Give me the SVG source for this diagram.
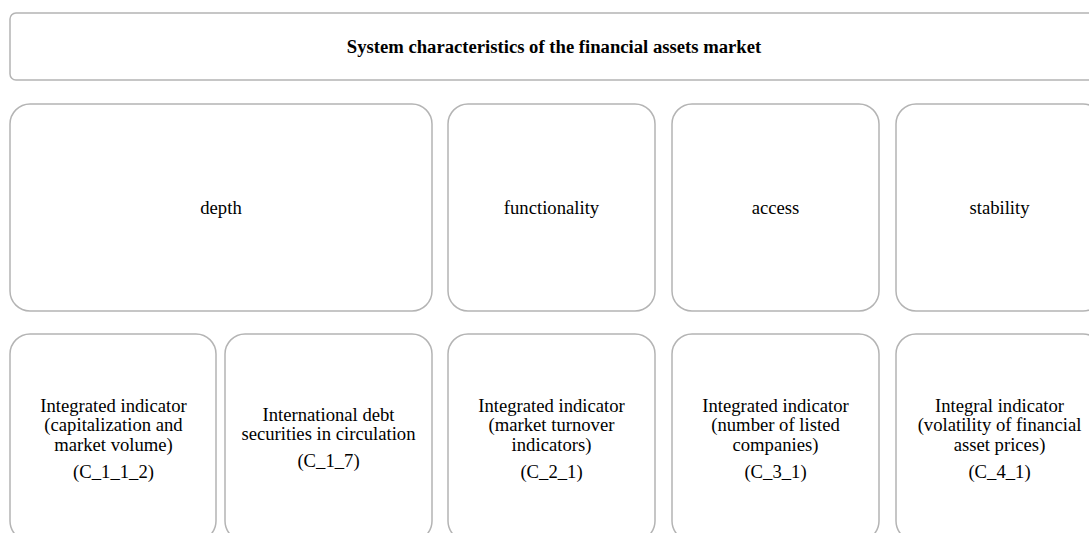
<svg xmlns="http://www.w3.org/2000/svg" width="1089" height="533" viewBox="0 0 1089 533">
<style>
.box{fill:#ffffff;stroke:#b4b4b4;stroke-width:1.5}
.t{font-family:'Liberation Serif','Times New Roman','DejaVu Serif',serif;font-size:18.67px;fill:#000000;text-anchor:middle}
.b{font-weight:bold}
</style>
<rect x="0" y="0" width="1089" height="533" fill="#ffffff"/>
<g id="title">
<rect class="box" x="10" y="13" width="1093" height="67" rx="6"/>
<text class="t b" x="554" y="52.5">System characteristics of the financial assets market</text>
</g>
<g id="depth">
<rect class="box" x="10" y="104" width="422" height="207" rx="20"/>
<text class="t" x="221" y="214">depth</text>
</g>
<g id="functionality">
<rect class="box" x="448" y="104" width="207" height="207" rx="20"/>
<text class="t" x="551.5" y="214">functionality</text>
</g>
<g id="access">
<rect class="box" x="672" y="104" width="207" height="207" rx="20"/>
<text class="t" x="775.5" y="214">access</text>
</g>
<g id="stability">
<rect class="box" x="896" y="104" width="207" height="207" rx="20"/>
<text class="t" x="999.5" y="214">stability</text>
</g>
<g id="c_1_1_2">
<rect class="box" x="10" y="334" width="206" height="207" rx="20"/>
<text class="t" x="113.5" y="411.5">Integrated indicator</text>
<text class="t" x="113.5" y="431">(capitalization and</text>
<text class="t" x="113.5" y="450.5">market volume)</text>
<text class="t" x="113.5" y="477.5">(C_1_1_2)</text>
</g>
<g id="c_1_7">
<rect class="box" x="225" y="334" width="207" height="207" rx="20"/>
<text class="t" x="328.5" y="420.5">International debt</text>
<text class="t" x="328.5" y="440">securities in circulation</text>
<text class="t" x="328.5" y="467">(C_1_7)</text>
</g>
<g id="c_2_1">
<rect class="box" x="448" y="334" width="207" height="207" rx="20"/>
<text class="t" x="551.5" y="411.5">Integrated indicator</text>
<text class="t" x="551.5" y="431">(market turnover</text>
<text class="t" x="551.5" y="450.5">indicators)</text>
<text class="t" x="551.5" y="477.5">(C_2_1)</text>
</g>
<g id="c_3_1">
<rect class="box" x="672" y="334" width="207" height="207" rx="20"/>
<text class="t" x="775.5" y="411.5">Integrated indicator</text>
<text class="t" x="775.5" y="431">(number of listed</text>
<text class="t" x="775.5" y="450.5">companies)</text>
<text class="t" x="775.5" y="477.5">(C_3_1)</text>
</g>
<g id="c_4_1">
<rect class="box" x="896" y="334" width="207" height="207" rx="20"/>
<text class="t" x="999.5" y="411.5">Integral indicator</text>
<text class="t" x="999.5" y="431">(volatility of financial</text>
<text class="t" x="999.5" y="450.5">asset prices)</text>
<text class="t" x="999.5" y="477.5">(C_4_1)</text>
</g>
<g id="connectors"></g>
</svg>
